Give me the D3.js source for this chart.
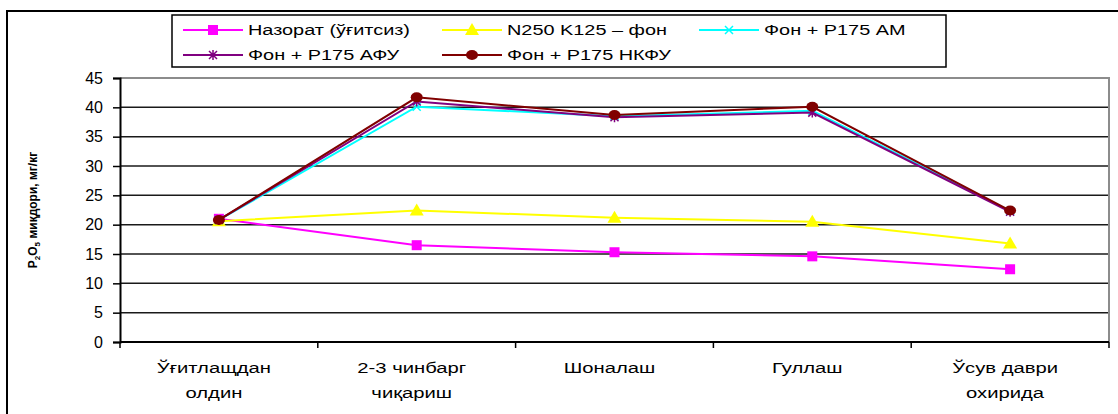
<!DOCTYPE html>
<html>
<head>
<meta charset="utf-8">
<script src="https://cdn.jsdelivr.net/npm/d3@7"></script>
<style>
  body { margin: 0; background: #fff; }
  svg text { font-family: "Liberation Sans", Arial, sans-serif; fill: #000; }
</style>
</head>
<body>
<div id="chart"></div>
<script>
// categories (two-line labels)
var categories = [
  ['Ўғитлащдан', 'олдин'],
  ['2-3 чинбарг', 'чиқариш'],
  ['Шоналаш', ''],
  ['Гуллаш', ''],
  ['Ўсув даври', 'охирида']
];
var yTicks = [0, 5, 10, 15, 20, 25, 30, 35, 40, 45];

// series values, P2O5 mg/kg
var nazorat = [21.0, 16.5, 15.3, 14.6, 12.4];
var fon = [20.6, 22.4, 21.2, 20.5, 16.8];
var fonAM = [20.8, 40.1, 38.5, 39.4, 22.3];
var fonAFU = [20.8, 41.0, 38.3, 39.1, 22.2];
var fonNKFU = [20.8, 41.7, 38.7, 40.1, 22.4];

var series = [
  {name: 'Назорат (ўғитсиз)', values: nazorat, color: '#ff00ff', marker: 'square'},
  {name: 'N250 K125 – фон', values: fon, color: '#ffff00', marker: 'triangle'},
  {name: 'Фон + Р175 АМ', values: fonAM, color: '#00ffff', marker: 'x'},
  {name: 'Фон + Р175 АФУ', values: fonAFU, color: '#800080', marker: 'star'},
  {name: 'Фон + Р175 НКФУ', values: fonNKFU, color: '#800000', marker: 'circle'}
];

var W = 1118, H = 414;
var plot = {left: 120, top: 78, right: 1109, bottom: 342};
// the original picture is stretched sideways, so text is too
var stretch = 1.35;
var legendStretch = 1.42;

var svg = d3.select('#chart').append('svg')
  .attr('width', W)
  .attr('height', H);

// outer chart border (runs off the right/bottom of the picture)
svg.append('rect')
  .attr('x', 7).attr('y', 11)
  .attr('width', W + 10).attr('height', H + 10)
  .attr('fill', 'none')
  .attr('stroke', '#000')
  .attr('stroke-width', 2);

var x = d3.scaleBand()
  .domain(d3.range(categories.length))
  .range([plot.left, plot.right]);
var y = d3.scaleLinear()
  .domain([0, 45])
  .range([plot.bottom, plot.top]);

// gridlines
svg.append('g')
  .selectAll('line')
  .data(yTicks.filter(function(d) { return d > 0 && d < 45; }))
  .enter().append('line')
    .attr('x1', plot.left).attr('x2', plot.right)
    .attr('y1', function(d) { return y(d); })
    .attr('y2', function(d) { return y(d); })
    .attr('stroke', '#1a1a1a')
    .attr('stroke-width', 1.5);

// plot area border top/right (gray)
svg.append('path')
  .attr('d', 'M' + plot.left + ',' + y(45) + 'H' + plot.right + 'V' + plot.bottom)
  .attr('fill', 'none')
  .attr('stroke', '#8c8c8c')
  .attr('stroke-width', 2);

// y axis
var yAxis = svg.append('g')
  .attr('transform', 'translate(' + plot.left + ',0)')
  .call(d3.axisLeft(y).tickValues(yTicks).tickSize(7).tickPadding(10));
yAxis.select('.domain').attr('stroke', '#000').attr('stroke-width', 2);
yAxis.selectAll('.tick line').attr('stroke', '#000').attr('stroke-width', 1.5);
yAxis.selectAll('.tick text')
  .style('font-family', '"Liberation Sans", Arial, sans-serif')
  .style('font-size', '16px');

// x axis with ticks between categories
var xAxis = svg.append('g')
  .attr('transform', 'translate(0,' + plot.bottom + ')');
xAxis.append('line')
  .attr('x1', plot.left).attr('x2', plot.right)
  .attr('stroke', '#000').attr('stroke-width', 2);
xAxis.selectAll('.xtick')
  .data(d3.range(categories.length + 1))
  .enter().append('line')
    .attr('class', 'xtick')
    .attr('x1', function(i) { return plot.left + i * x.step(); })
    .attr('x2', function(i) { return plot.left + i * x.step(); })
    .attr('y1', 0).attr('y2', 6)
    .attr('stroke', '#000').attr('stroke-width', 1.5);

var catLabels = xAxis.selectAll('.cat')
  .data(categories)
  .enter().append('text')
    .attr('class', 'cat')
    .attr('text-anchor', 'middle')
    .style('font-size', '15px')
    .attr('transform', function(d, i) {
      return 'translate(' + (x(i) + x.bandwidth() / 2 - 5) + ',0) scale(' + stretch + ',1)';
    });
catLabels.append('tspan')
  .attr('x', 0).attr('y', 31)
  .text(function(d) { return d[0]; });
catLabels.append('tspan')
  .attr('x', 0).attr('y', 56)
  .text(function(d) { return d[1]; });

// y axis title
var yTitle = svg.append('text')
  .attr('transform', 'translate(37,210) rotate(-90)')
  .attr('text-anchor', 'middle')
  .style('font-family', '"Liberation Sans Narrow", "Arial Narrow", "Liberation Sans", sans-serif')
  .style('font-size', '12px')
  .style('font-weight', 'bold');
yTitle.append('tspan').text('P');
yTitle.append('tspan').attr('font-size', '8px').attr('dy', 3).text('2');
yTitle.append('tspan').attr('dy', -3).text('O');
yTitle.append('tspan').attr('font-size', '8px').attr('dy', 3).text('5');
yTitle.append('tspan').attr('dy', -3).text(' миқдори, мг/кг');

// marker drawing
function drawMarker(g, type, color) {
  if (type === 'square') {
    g.append('rect').attr('x', -5).attr('y', -5).attr('width', 10).attr('height', 10)
      .attr('fill', color);
  } else if (type === 'triangle') {
    g.append('path').attr('d', 'M0,-7L7,5L-7,5Z').attr('fill', color);
  } else if (type === 'x') {
    g.append('path').attr('d', 'M-4,-4L4,4M-4,4L4,-4')
      .attr('stroke', color).attr('stroke-width', 1.5);
  } else if (type === 'star') {
    g.append('path').attr('d', 'M-4,-4L4,4M-4,4L4,-4M0,-5V5')
      .attr('stroke', color).attr('stroke-width', 1.5);
  } else if (type === 'circle') {
    g.append('ellipse').attr('rx', 6).attr('ry', 5).attr('fill', color);
  }
}

var line = d3.line()
  .x(function(d, i) { return x(i) + x.bandwidth() / 2; })
  .y(function(d) { return y(d); });

series.forEach(function(s) {
  var g = svg.append('g');
  g.append('path')
    .datum(s.values)
    .attr('d', line)
    .attr('fill', 'none')
    .attr('stroke', s.color)
    .attr('stroke-width', 2);
  g.selectAll('.m')
    .data(s.values)
    .enter().append('g')
      .attr('class', 'm')
      .attr('transform', function(d, i) {
        return 'translate(' + (x(i) + x.bandwidth() / 2) + ',' + y(d) + ')';
      })
      .each(function() { drawMarker(d3.select(this), s.marker, s.color); });
});

// legend
var legendPos = [
  {x: 183, y: 30}, {x: 442, y: 30}, {x: 699, y: 30},
  {x: 183, y: 55}, {x: 442, y: 55}
];
svg.append('rect')
  .attr('x', 172).attr('y', 15)
  .attr('width', 774).attr('height', 52)
  .attr('fill', '#fff')
  .attr('stroke', '#000')
  .attr('stroke-width', 1.5);
var legend = svg.selectAll('.leg')
  .data(series)
  .enter().append('g')
    .attr('class', 'leg')
    .attr('transform', function(d, i) {
      return 'translate(' + legendPos[i].x + ',' + legendPos[i].y + ')';
    });
legend.append('line')
  .attr('x1', 0).attr('x2', 60)
  .attr('stroke', function(d) { return d.color; })
  .attr('stroke-width', 2);
legend.each(function(d) {
  var m = d3.select(this).append('g').attr('transform', 'translate(30,0)');
  drawMarker(m, d.marker, d.color);
});
legend.append('text')
  .attr('transform', 'translate(65,5) scale(' + legendStretch + ',1)')
  .style('font-size', '14px')
  .text(function(d) { return d.name; });
</script>
</body>
</html>
